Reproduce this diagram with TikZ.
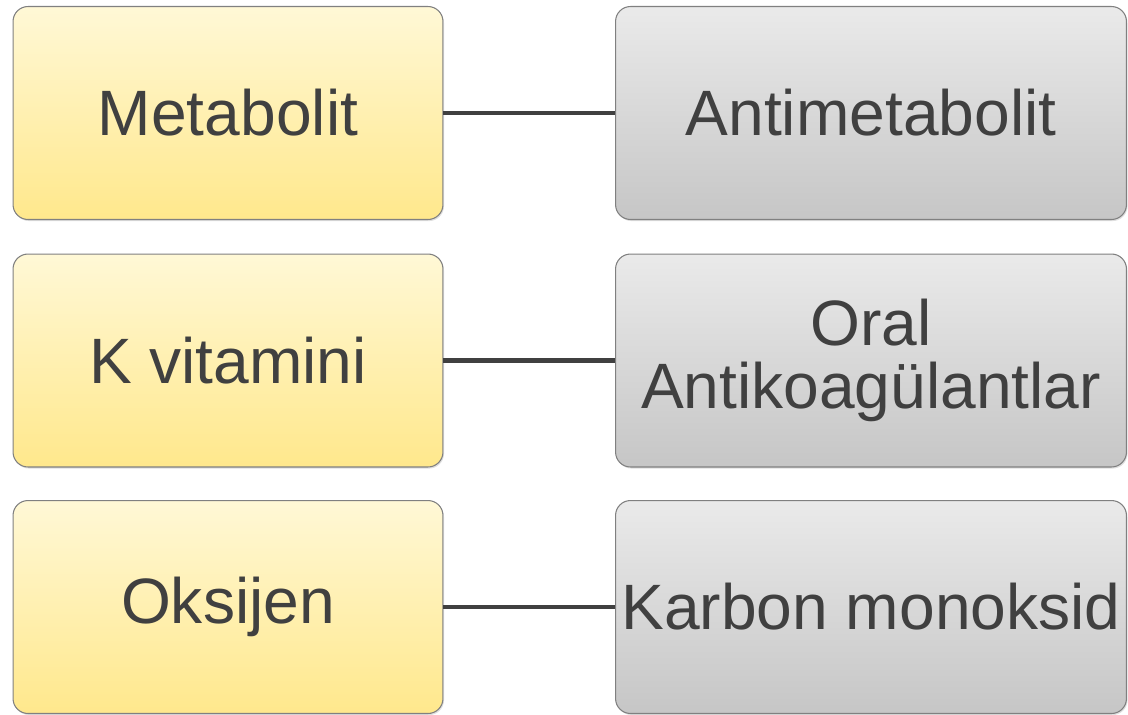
\documentclass[tikz,border=0pt]{standalone}
\usepackage{fontspec}
\setmainfont{Liberation Sans}
\usepackage{xcolor}
\usepackage{tikz}
\usetikzlibrary{positioning,shadows}
\definecolor{txtgray}{HTML}{404040}
\definecolor{ylwtop}{HTML}{FFF8D6}
\definecolor{ylwbot}{HTML}{FFE88C}
\definecolor{grytop}{HTML}{EAEAEA}
\definecolor{grybot}{HTML}{C6C6C6}
\definecolor{edgegray}{HTML}{808080}
\tikzset{
  blk/.style   = {draw=edgegray, line width=0.6pt, rounded corners=8.5pt,
                  align=center, text=txtgray, inner sep=0pt,
                  font=\fontsize{36.5}{35.5}\selectfont,
                  minimum height=4.26cm,
                  drop shadow={shadow xshift=0.6pt, shadow yshift=-0.9pt, opacity=0.25}},
  agent/.style = {blk, minimum width=8.6cm, top color=ylwtop, bottom color=ylwbot},
  anta/.style  = {blk, minimum width=10.22cm, top color=grytop, bottom color=grybot},
  lnk/.style   = {draw=txtgray, line width=2.8pt},
}

\begin{document}
\begin{tikzpicture}[x=0.02cm, y=-0.02cm]
\useasboundingbox (0,0) rectangle (1128,714);

\node[agent] (m1) at (228,113)   {Metabolit};
\node[agent] (m2) at (228,360.5) {K vitamini};
\node[agent] (m3) at (228,607)   {Oksijen};

\node[anta] (a1) at (871,113)   {Antimetabolit};
\node[anta] (a2) at (871,360.5) {Oral\\Antikoagülantlar};
\node[anta] (a3) at (871,607)   {Karbon monoksid};

\draw[lnk] (m1) -- (a1);
\draw[lnk] (m2) -- (a2);
\draw[lnk] (m3) -- (a3);
\end{tikzpicture}
\end{document}
